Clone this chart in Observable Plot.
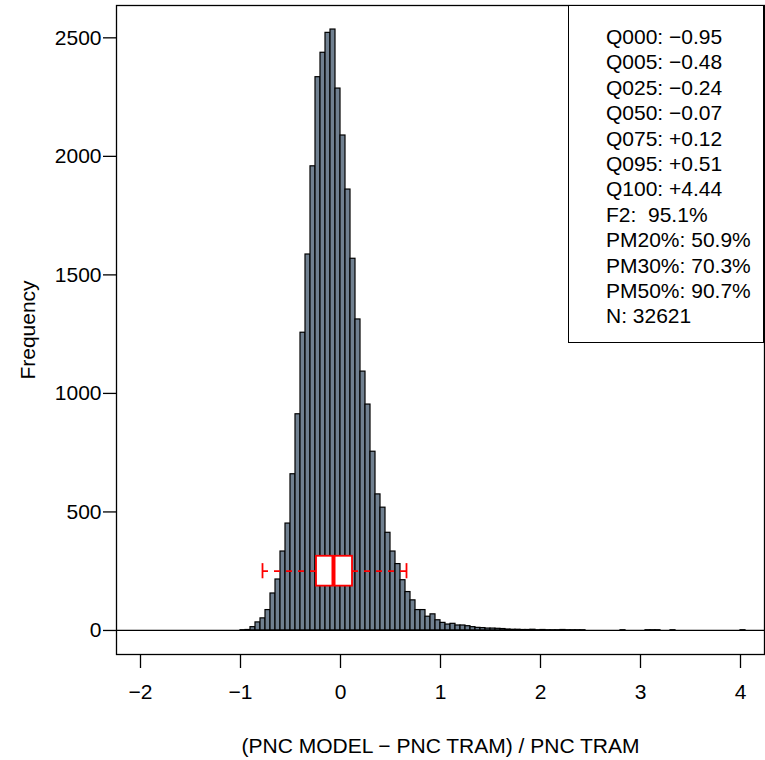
<!DOCTYPE html>
<html>
<head>
<meta charset="utf-8">
<script src="https://cdn.jsdelivr.net/npm/d3@7"></script>
<script src="https://cdn.jsdelivr.net/npm/@observablehq/plot@0.6"></script>
<style>
  html, body { margin: 0; padding: 0; background: #fff; overflow: hidden; }
  #wrap { position: relative; width: 765px; height: 760px; }
  #stats {
    position: absolute; left: 568px; top: 5px; width: 196px; height: 338px;
    box-sizing: border-box; border: 1.2px solid #000; background: #fff;
    padding: 18px 0 0 37px;
    font-family: "Liberation Sans", Arial, sans-serif; font-size: 21px; line-height: 25.4px;
    color: #000; white-space: pre;
  }
</style>
</head>
<body>
<div id="wrap"><div id="stats"></div></div>
<script>
// Histogram of relative error, bins of width 0.05 (lower edges and counts)
const binLow = [
  -1.00, -0.95, -0.90, -0.85, -0.80, -0.75, -0.70, -0.65, -0.60, -0.55,
  -0.50, -0.45, -0.40, -0.35, -0.30, -0.25, -0.20, -0.15, -0.10, -0.05,
   0.00,  0.05,  0.10,  0.15,  0.20,  0.25,  0.30,  0.35,  0.40,  0.45,
   0.50,  0.55,  0.60,  0.65,  0.70,  0.75,  0.80,  0.85,  0.90,  0.95,
   1.00,  1.05,  1.10,  1.15,  1.20,  1.25,  1.30,  1.35,  1.40,  1.45,
   1.50,  1.55,  1.60,  1.65,  1.70,  1.75,  1.80,  1.85,  1.90,  1.95,
   2.00,  2.05,  2.10,  2.15,  2.20,  2.25,  2.30,  2.35,  2.40,  2.80,
   3.05,  3.10,  3.15,  3.30,  4.00
];
const counts = [
     1,    2,   14,   34,   51,   86,  156,  215,  333,  451,
   659,  912, 1256, 1586, 1958, 2334, 2437, 2521, 2535, 2286,
  2088, 1860, 1568, 1312, 1092,  953,  754,  574,  518,  412,
   333,  280,  212,  162,  127,   86,   86,   58,   68,   43,
    32,   25,   28,   21,   21,   18,   14,   11,   10,    8,
     8,    7,    6,    4,    3,    3,    2,    2,    3,    1,
     2,    1,    1,    1,    2,    1,    1,    1,    1,    1,
     1,    1,    1,    1,    1
];
const binWidth = 0.05;

// Boxplot summary drawn over the histogram
const quartiles = { q1: -0.24, median: -0.07, q3: 0.12 };
const whiskers = { lo: -0.78, hi: 0.66 };
const boxAt = 250, boxHalf = 63, capHalf = 32;

// Axis ticks and limits
const xTicks = [-2, -1, 0, 1, 2, 3, 4];
const yTicks = [0, 500, 1000, 1500, 2000, 2500];
const xLimits = [-2, 4];

// Summary statistics box
const statLines = [
  "Q000: \u22120.95", "Q005: \u22120.48", "Q025: \u22120.24", "Q050: \u22120.07",
  "Q075: +0.12", "Q095: +0.51", "Q100: +4.44", "F2:  95.1%",
  "PM20%: 50.9%", "PM30%: 70.3%", "PM50%: 90.7%", "N: 32621"
];

const xLabel = "(PNC MODEL \u2212 PNC TRAM) / PNC TRAM";
const yLabel = "Frequency";

const bins = binLow.map((x1, i) => ({ x1, x2: x1 + binWidth, count: counts[i] }));

// R-style 4% padding of the axis limits
const pad = (lo, hi) => { const d = (hi - lo) * 0.04; return [lo - d, hi + d]; };
const xDomain = pad(xLimits[0], xLimits[1]);
const yDomain = pad(0, d3.max(counts));

const minusFmt = d => (d < 0 ? "\u2212" + Math.abs(d) : String(d));
const red = "#ff0000";

const chart = Plot.plot({
  width: 765,
  height: 760,
  marginTop: 5,
  marginRight: 1,
  marginBottom: 106,
  marginLeft: 116,
  style: { fontFamily: "'Liberation Sans', Arial, sans-serif", fontSize: "21px", background: "#fff", color: "#000" },
  x: { domain: xDomain },
  y: { domain: yDomain },
  marks: [
    Plot.rectY(bins, { x1: "x1", x2: "x2", y: "count", fill: "slategray", stroke: "#000", strokeWidth: 1.2 }),
    Plot.ruleY([0], { stroke: "#000", strokeWidth: 1.3 }),
    // whiskers
    Plot.ruleY([{ a: whiskers.lo, b: quartiles.q1 }, { a: quartiles.q3, b: whiskers.hi }],
      { y: () => boxAt, x1: "a", x2: "b", stroke: red, strokeWidth: 1.8, strokeDasharray: "6,6" }),
    Plot.ruleX([whiskers.lo, whiskers.hi], { x: d => d, y1: boxAt - capHalf, y2: boxAt + capHalf, stroke: red, strokeWidth: 1.8 }),
    // box and median
    Plot.rect([quartiles], { x1: "q1", x2: "q3", y1: boxAt - boxHalf, y2: boxAt + boxHalf, fill: "#fff", stroke: red, strokeWidth: 1.8 }),
    Plot.ruleX([quartiles], { x: "median", y1: boxAt - boxHalf, y2: boxAt + boxHalf, stroke: red, strokeWidth: 4 }),
    Plot.frame({ stroke: "#000", strokeWidth: 1.3 }),
    Plot.axisX({ ticks: xTicks, tickSize: 14, tickPadding: 16, tickFormat: minusFmt, fontSize: 21, label: null, strokeWidth: 1.3 }),
    Plot.axisY({ ticks: yTicks, tickSize: 13, tickPadding: 2, tickFormat: d => String(d), fontSize: 21, label: null, strokeWidth: 1.3 }),
    Plot.text([xLabel], { frameAnchor: "bottom", dy: 92, fontSize: 21, lineAnchor: "middle" }),
    Plot.text([yLabel], { frameAnchor: "left", dx: -88, rotate: -90, fontSize: 21, textAnchor: "middle", lineAnchor: "middle" })
  ]
});

const wrap = document.getElementById("wrap");
wrap.insertBefore(chart, wrap.firstChild);
document.getElementById("stats").textContent = statLines.join("\n");
</script>
</body>
</html>
